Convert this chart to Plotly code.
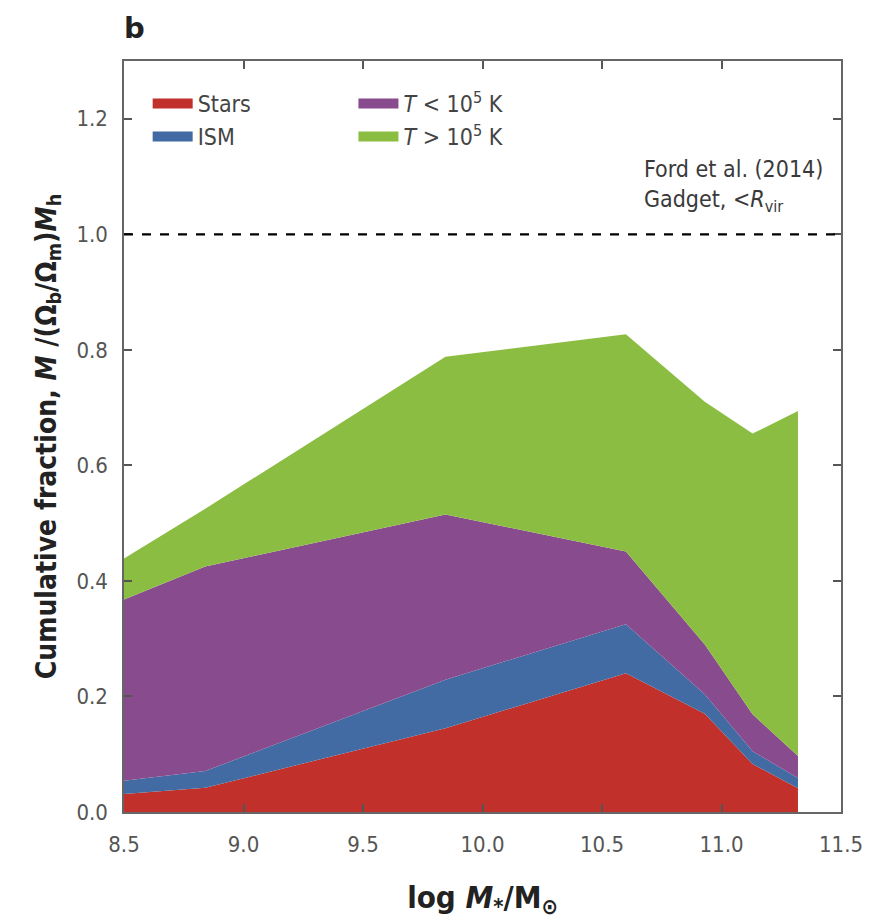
import plotly.graph_objects as go

# log stellar mass (x) and cumulative fractions (tops of each stacked layer)
log_mstar = [8.5, 8.84, 9.845, 10.6, 10.93, 11.13, 11.32]
stars_top = [0.031, 0.042, 0.145, 0.240, 0.170, 0.083, 0.041]
ism_top   = [0.054, 0.071, 0.229, 0.325, 0.204, 0.105, 0.059]
cold_top  = [0.368, 0.425, 0.515, 0.451, 0.290, 0.169, 0.097]
hot_top   = [0.439, 0.525, 0.788, 0.827, 0.710, 0.655, 0.694]

names = ["Stars", "ISM", "<i>T</i> < 10<sup>5</sup> K", "<i>T</i> > 10<sup>5</sup> K"]
colors = ["#C1302A", "#436BA3", "#884B8D", "#8BBD42"]
legend_ids = ["legend", "legend", "legend2", "legend2"]
layers = [stars_top, ism_top, cold_top, hot_top]

FONT = "DejaVu Sans Condensed, DejaVu Sans, sans-serif"
fig = go.Figure()
for i, (nm, col, ys) in enumerate(zip(names, colors, layers)):
    fig.add_trace(go.Scatter(
        x=log_mstar, y=ys, name=nm, mode="lines",
        line=dict(width=0, color=col),
        fill="tozeroy" if i == 0 else "tonexty",
        fillcolor=col, showlegend=False, hoverinfo="skip"))
# legend swatches (thick line entries)
for nm, col, lg in zip(names, colors, legend_ids):
    fig.add_trace(go.Scatter(x=[None], y=[None], name=nm, mode="lines",
                             line=dict(width=17, color=col), legend=lg))

fig.add_shape(type="line", xref="paper", yref="y", x0=0, x1=1, y0=1.0, y1=1.0,
              line=dict(color="black", width=2.2, dash="dash"))

fig.add_annotation(xref="paper", yref="paper", x=0.977, y=0.834, xanchor="right", yanchor="middle",
                   text="Ford et al. (2014)<br>Gadget, <<i>R</i><sub>vir</sub>",
                   showarrow=False, align="left",
                   font=dict(family=FONT, size=23, color="#3a3a3a"))
fig.add_annotation(xref="paper", yref="paper", x=-0.003, y=1.018, xanchor="left", yanchor="bottom",
                   text="<b>b</b>", showarrow=False,
                   font=dict(family="DejaVu Sans", size=29, color="#222"))

axis_common = dict(showline=True, linecolor="#666", linewidth=1.5, mirror="ticks",
                   ticks="inside", ticklen=8, tickwidth=1.5, tickcolor="#555",
                   showgrid=False, zeroline=False,
                   tickfont=dict(family=FONT, size=22, color="#555"))

leg_common = dict(orientation="v", yanchor="top", xanchor="left", bgcolor="rgba(0,0,0,0)",
                  font=dict(family=FONT, size=23, color="#444"), tracegroupgap=0,
                  itemwidth=40, traceorder="normal")

fig.update_layout(
    width=872, height=919,
    margin=dict(l=116, r=39, t=53, b=115),
    plot_bgcolor="white", paper_bgcolor="white",
    xaxis=dict(range=[8.5, 11.5], tickvals=[8.5, 9.0, 9.5, 10.0, 10.5, 11.0, 11.5],
               ticktext=["8.5", "9.0", "9.5", "10.0", "10.5", "11.0", "11.5"],
               ticklabelstandoff=12,
               title=dict(text="<b>log <i>M</i><sub>*</sub>/M<sub>⊙</sub></b>", standoff=30,
                          font=dict(family=FONT, size=31, color="#222")),
               **axis_common),
    yaxis=dict(range=[0, 1.3], tickvals=[0, 0.2, 0.4, 0.6, 0.8, 1.0, 1.2],
               ticktext=["0.0", "0.2", "0.4", "0.6", "0.8", "1.0", "1.2"],
               ticklabelstandoff=10,
               title=dict(text="<b>Cumulative fraction, <i>M</i> /(Ω<sub>b</sub>/Ω<sub>m</sub>)<i>M</i><sub>h</sub></b>",
                          standoff=12, font=dict(family=FONT, size=28, color="#222")),
               **axis_common),
    legend=dict(x=0.033, y=0.972, **leg_common),
    legend2=dict(x=0.32, y=0.972, **leg_common),
    showlegend=True,
)

fig.write_html("out.html")
